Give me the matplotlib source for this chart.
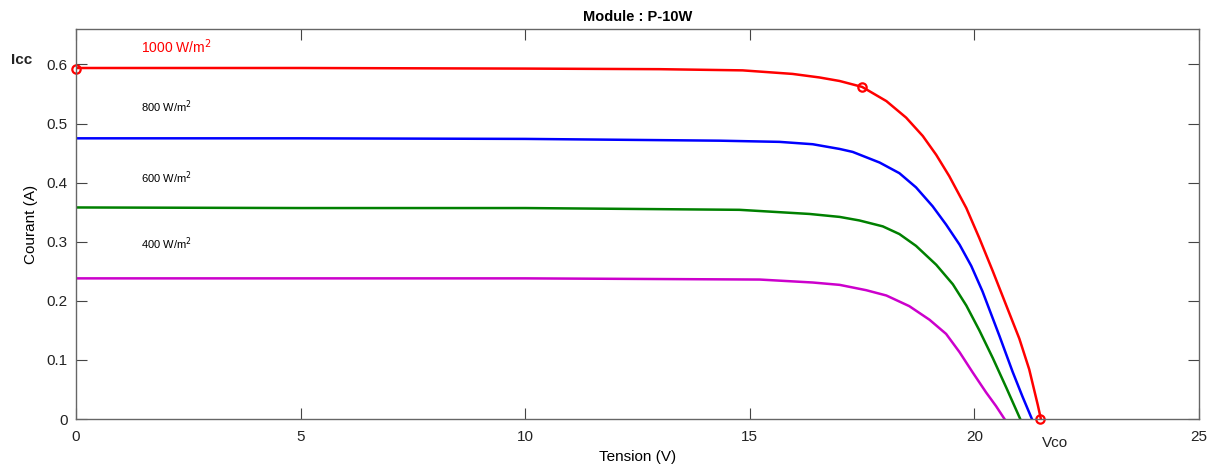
import matplotlib
matplotlib.use("Agg")
import matplotlib.pyplot as plt

plt.rcParams['font.family'] = ['Liberation Sans', 'DejaVu Sans']

# Data (Tension V, Courant A)
v_1000 = [0, 5, 10, 13.0, 14.84, 15.95, 16.55, 17.0, 17.5, 18.04, 18.48, 18.85, 19.15, 19.44,
          19.82, 20.11, 20.41, 20.71, 21.0, 21.22, 21.41, 21.48]
i_1000 = [0.594, 0.594, 0.593, 0.592, 0.590, 0.584, 0.578, 0.572, 0.562, 0.538, 0.510, 0.479, 0.447, 0.411,
          0.357, 0.306, 0.250, 0.192, 0.136, 0.084, 0.024, 0.0]

v_800 = [0, 5, 10, 14.33, 15.66, 16.4, 17.0, 17.29, 17.89, 18.33, 18.70, 19.07, 19.37, 19.67,
         19.93, 20.18, 20.56, 20.85, 21.07, 21.28]
i_800 = [0.475, 0.475, 0.474, 0.471, 0.469, 0.465, 0.457, 0.452, 0.434, 0.416, 0.392, 0.360, 0.329, 0.295,
         0.259, 0.216, 0.140, 0.080, 0.038, 0.0]

v_600 = [0, 5, 10, 14.77, 16.33, 17.0, 17.44, 17.96, 18.33, 18.70, 19.15, 19.52, 19.82, 20.11,
         20.41, 20.71, 21.02]
i_600 = [0.358, 0.357, 0.357, 0.354, 0.347, 0.342, 0.336, 0.326, 0.313, 0.293, 0.261, 0.228, 0.192, 0.150,
         0.103, 0.053, 0.0]

v_400 = [0, 5, 10, 15.22, 16.4, 17.0, 17.59, 18.04, 18.55, 19.0, 19.37, 19.67, 19.96, 20.26, 20.48, 20.67]
i_400 = [0.238, 0.238, 0.238, 0.236, 0.231, 0.227, 0.218, 0.209, 0.191, 0.168, 0.144, 0.113, 0.079, 0.045,
         0.022, 0.0]

marker_v = [0, 17.5, 21.47]
marker_i = [0.592, 0.562, 0.0]

labels = ['1000 W/m$^2$', '800 W/m$^2$', '600 W/m$^2$', '400 W/m$^2$']
label_y = [0.630, 0.529, 0.409, 0.296]

fig = plt.figure(figsize=(12.2, 4.7), dpi=100)
ax = fig.add_axes([0.0623, 0.1085, 0.9205, 0.8298])

ax.plot(v_1000, i_1000, color='#ff0000', lw=1.8, solid_joinstyle='round')
ax.plot(v_800, i_800, color='#0000ff', lw=1.8, solid_joinstyle='round')
ax.plot(v_600, i_600, color='#008000', lw=1.8, solid_joinstyle='round')
ax.plot(v_400, i_400, color='#cc00cc', lw=1.8, solid_joinstyle='round')
ax.plot(marker_v, marker_i, 'o', ls='none', mfc='none', mec='#ff0000', ms=6, mew=1.6, clip_on=False)

ax.text(1.45, label_y[0], labels[0], color='#ff0000', fontsize=10, va='center')
for lab, y in zip(labels[1:], label_y[1:]):
    ax.text(1.45, y, lab, color='black', fontsize=8, va='center')

ax.set_xlim(0, 25)
ax.set_ylim(0, 0.66)
ax.set_xticks([0, 5, 10, 15, 20, 25])
ax.set_yticks([0, 0.1, 0.2, 0.3, 0.4, 0.5, 0.6])
ax.set_yticklabels(['0', '0.1', '0.2', '0.3', '0.4', '0.5', '0.6'])
ax.tick_params(direction='in', top=True, right=True, length=8, width=0.8,
               color='#444444', labelcolor='#222222', labelsize=11)
ax.tick_params(axis='x', pad=8)
ax.tick_params(axis='y', pad=6)
for s in ax.spines.values():
    s.set_color('#666666')
    s.set_linewidth(1.0)

ax.set_xlabel('Tension (V)', fontsize=11, labelpad=4)
ax.set_ylabel('Courant (A)', fontsize=11, labelpad=6)
ax.set_title('Module : P-10W', fontsize=10.5, fontweight='bold', pad=6)

fig.text(22 / 1220, 1 - 60 / 470, 'Icc', fontsize=11, fontweight='bold', color='#222222', ha='center', va='center')
fig.text(1055 / 1220, 1 - 443 / 470, 'Vco', fontsize=11, color='#222222', ha='center', va='center')

fig.savefig('out.png', dpi=100)
